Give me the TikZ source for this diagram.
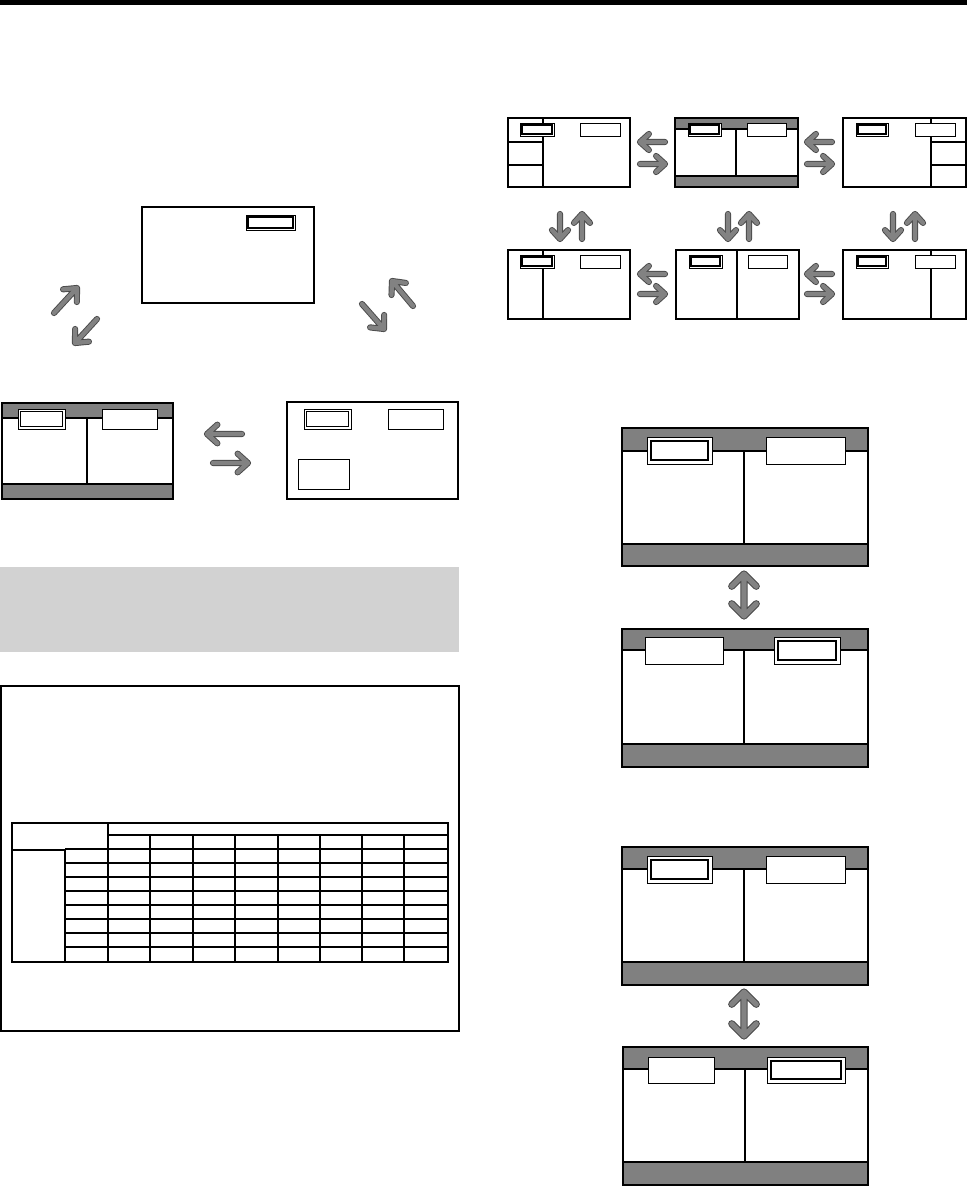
\documentclass[tikz,border=0pt]{standalone}
\usetikzlibrary{calc,fit}
\definecolor{band}{HTML}{808080}
\definecolor{adark}{HTML}{4A4A4A}
\definecolor{agray}{HTML}{828282}
\definecolor{lightshade}{HTML}{D2D2D2}
\tikzset{
  thinline/.style={line width=0.8pt},
  frame/.style={draw, inner sep=0pt, line width=0.8pt},
  bigframe/.style={draw, inner sep=0pt, line width=1.7pt},
  bandfill/.style={draw, fill=band, line width=0.8pt},
  arrowout/.style={line width=4.6pt, draw=adark, line cap=round, line join=round},
  arrowin/.style={line width=3.2pt, draw=agray, line cap=round, line join=round},
  bigarrowout/.style={line width=5.4pt, draw=adark, line cap=round, line join=round},
  bigarrowin/.style={line width=3.9pt, draw=agray, line cap=round, line join=round},
}
% screen frame as a named node
\newcommand\scr[6][frame]{\path (#3,#4) coordinate (#2-nw) (#5,#6) coordinate (#2-se);
  \node[#1, fit=(#2-nw)(#2-se)] (#2) {};}
% double (selected) box: x1 y1 x2 y2 gap innerwidth
\newcommand\dbox[6]{%
  \draw[line width=0.7pt, fill=white] (#1,#2) rectangle (#3,#4);
  \draw[line width=#6] ($(#1,#2)+(#5,#5)$) rectangle ($(#3,#4)+(-#5,-#5)$);}
\newcommand\plainbox[4]{\draw[line width=0.7pt, fill=white] (#1,#2) rectangle (#3,#4);}
\newcommand\bandr[4]{\draw[bandfill] (#1,#2) rectangle (#3,#4);}
% gray arrow from #1 to tip #2, arm length #3
\newcommand\garr[3]{%
  \foreach \st in {arrowout,arrowin}{
    \draw[\st] (#1) -- (#2) ($(#2)!#3!42:(#1)$) -- (#2) -- ($(#2)!#3!-42:(#1)$);}}
\newcommand\dgarr[3]{%
  \foreach \st in {bigarrowout,bigarrowin}{
    \draw[\st] (#1) -- (#2) ($(#2)!#3!45:(#1)$) -- (#2) -- ($(#2)!#3!-45:(#1)$)
      ($(#1)!#3!45:(#2)$) -- (#1) -- ($(#1)!#3!-45:(#2)$);}}
\begin{document}
\begin{tikzpicture}[x=0.75pt,y=-0.75pt]
\useasboundingbox (0,0) rectangle (967,1186);
\fill[white] (0,0) rectangle (967,1186);
% top rule
\fill[black] (0,0) rectangle (967,5);

% ---------- top-left single screen ----------
\dbox{246}{215}{295}{230}{2}{1.3pt}
\scr{P}{142}{207}{314}{303}
% diagonal arrows
\coordinate (d1s) at (54,313); \coordinate (d1t) at (77,288);
\coordinate (d2s) at (97,319); \coordinate (d2t) at (75,343);
\coordinate (d3s) at (362,304); \coordinate (d3t) at (384,329);
\coordinate (d4s) at (413,306); \coordinate (d4t) at (392,281);
\garr{d1s}{d1t}{10.5pt}
\garr{d2s}{d2t}{10.5pt}
\garr{d3s}{d3t}{10.5pt}
\garr{d4s}{d4t}{10.5pt}

% ---------- left middle pair ----------
\bandr{2}{403}{173}{418}
\bandr{2}{484}{173}{499}
\draw[thinline] (87,418) -- (87,484);
\dbox{18}{409}{65}{429}{2.5}{1.3pt}
\plainbox{102}{409}{157}{429}
\scr{G}{2}{403}{173}{499}
\plainbox{298}{459}{349}{489}
\dbox{304}{409}{351}{429}{2.5}{1.3pt}
\plainbox{388}{409}{443}{429}
\scr{H}{287}{402}{458}{499}
\coordinate (g1s) at (242,434); \coordinate (g1t) at (207,434);
\coordinate (g2s) at (213,463); \coordinate (g2t) at (248,463);
\garr{g1s}{g1t}{10.5pt}
\garr{g2s}{g2t}{10.5pt}

% ---------- shaded block ----------
\fill[lightshade] (0,567) rectangle (459,652);

% ---------- framed table block ----------
\draw[line width=0.9pt] (1,686) rectangle (459,1031);
\node[frame, fit={(12,823)(448,962)}] (T) {};
\draw[thinline] (108,835) -- (448,835);
\draw[thinline] (65,849) -- (448,849);
\draw[line width=1.6pt] (12,850) -- (65,850);
\draw[thinline] (108,823) -- (108,962);
\draw[thinline] (65,849) -- (65,962);
\foreach \x in {150,193,235,278,320,362,404}{\draw[thinline] (\x,835) -- (\x,962);}
\foreach \y in {863,877,891,905,919,933,947}{\draw[thinline] (65,\y) -- (448,\y);}
\draw[line width=1.5pt] (448,823) -- (448,962);

% ---------- top-right grid of six screens ----------
% A
\draw[thinline] (543,118) -- (543,187) (508,142) -- (543,142) (508,165) -- (543,165);
\dbox{520}{123}{554}{136}{2}{0.9pt}
\plainbox{580}{123}{620}{136}
\scr{A}{508}{118}{630}{187}
% B
\bandr{675}{118}{798}{129}
\bandr{675}{176}{798}{187}
\draw[thinline] (736,129) -- (736,176);
\dbox{688}{123}{721}{136}{2}{0.9pt}
\plainbox{747}{123}{786}{136}
\scr{B}{675}{118}{798}{187}
% C
\draw[thinline] (931,118) -- (931,187) (931,142) -- (966,142) (931,165) -- (966,165);
\dbox{856}{123}{888}{136}{2}{1.1pt}
\plainbox{915}{123}{955}{136}
\scr{C}{843}{118}{966}{187}
% D
\draw[thinline] (543,250) -- (543,319);
\dbox{520}{255}{554}{268}{2}{0.9pt}
\plainbox{580}{255}{620}{268}
\scr{D}{508}{250}{630}{319}
% E
\draw[thinline] (737,250) -- (737,319);
\dbox{689}{255}{722}{268}{2}{0.9pt}
\plainbox{748}{255}{787}{268}
\scr{E}{676}{250}{799}{319}
% F
\draw[thinline] (931,250) -- (931,319);
\dbox{856}{255}{888}{268}{2}{1.1pt}
\plainbox{915}{255}{955}{268}
\scr{F}{843}{250}{966}{319}
% horizontal arrows
\foreach \y/\n in {142/1,274/2}{
  \coordinate (hl\n s) at (665,\y); \coordinate (hl\n t) at (640,\y);
  \coordinate (hr\n s) at (832,\y); \coordinate (hr\n t) at (807,\y);}
\foreach \y/\n in {164/1,294/2}{
  \coordinate (kl\n s) at (640,\y); \coordinate (kl\n t) at (665,\y);
  \coordinate (kr\n s) at (807,\y); \coordinate (kr\n t) at (832,\y);}
\garr{hl1s}{hl1t}{9pt}\garr{hr1s}{hr1t}{9pt}
\garr{hl2s}{hl2t}{9pt}\garr{hr2s}{hr2t}{9pt}
\garr{kl1s}{kl1t}{9pt}\garr{kr1s}{kr1t}{9pt}
\garr{kl2s}{kl2t}{9pt}\garr{kr2s}{kr2t}{9pt}
% vertical arrows
\foreach \xd/\xu/\n in {560/582/1,728/749/2,893/915/3}{
  \coordinate (vd\n s) at (\xd,214); \coordinate (vd\n t) at (\xd,239);
  \coordinate (vu\n s) at (\xu,239); \coordinate (vu\n t) at (\xu,214);}
\garr{vd1s}{vd1t}{9pt}\garr{vu1s}{vu1t}{9pt}
\garr{vd2s}{vd2t}{9pt}\garr{vu2s}{vu2t}{9pt}
\garr{vd3s}{vd3t}{9pt}\garr{vu3s}{vu3t}{9pt}

% ---------- right column, pair 1 ----------
\bandr{622}{428}{868}{451}
\bandr{622}{544}{868}{566}
\draw[thinline] (744,451) -- (744,544);
\dbox{647}{437}{712}{464}{4}{1.7pt}
\plainbox{766}{437}{845}{464}
\scr[bigframe]{I}{622}{428}{868}{566}
\bandr{622}{629}{868}{650}
\bandr{622}{744}{868}{767}
\draw[thinline] (744,650) -- (744,744);
\plainbox{645}{637}{723}{664}
\dbox{774}{637}{840}{664}{4}{1.7pt}
\scr[bigframe]{J}{622}{629}{868}{767}
\coordinate (u1a) at (744,574); \coordinate (u1b) at (744,616);
\dgarr{u1a}{u1b}{13pt}

% ---------- right column, pair 2 ----------
\bandr{622}{847}{868}{869}
\bandr{622}{962}{868}{985}
\draw[thinline] (744,869) -- (744,962);
\dbox{647}{856}{712}{883}{4}{1.7pt}
\plainbox{766}{856}{845}{883}
\scr[bigframe]{K}{622}{847}{868}{985}
\bandr{623}{1047}{868}{1069}
\bandr{623}{1162}{868}{1185}
\draw[thinline] (745,1069) -- (745,1162);
\plainbox{648}{1057}{714}{1083}
\dbox{767}{1057}{845}{1083}{4}{1.7pt}
\scr[bigframe]{L}{623}{1047}{868}{1185}
\coordinate (u2a) at (744,992); \coordinate (u2b) at (744,1036);
\dgarr{u2a}{u2b}{13pt}
\end{tikzpicture}
\end{document}
